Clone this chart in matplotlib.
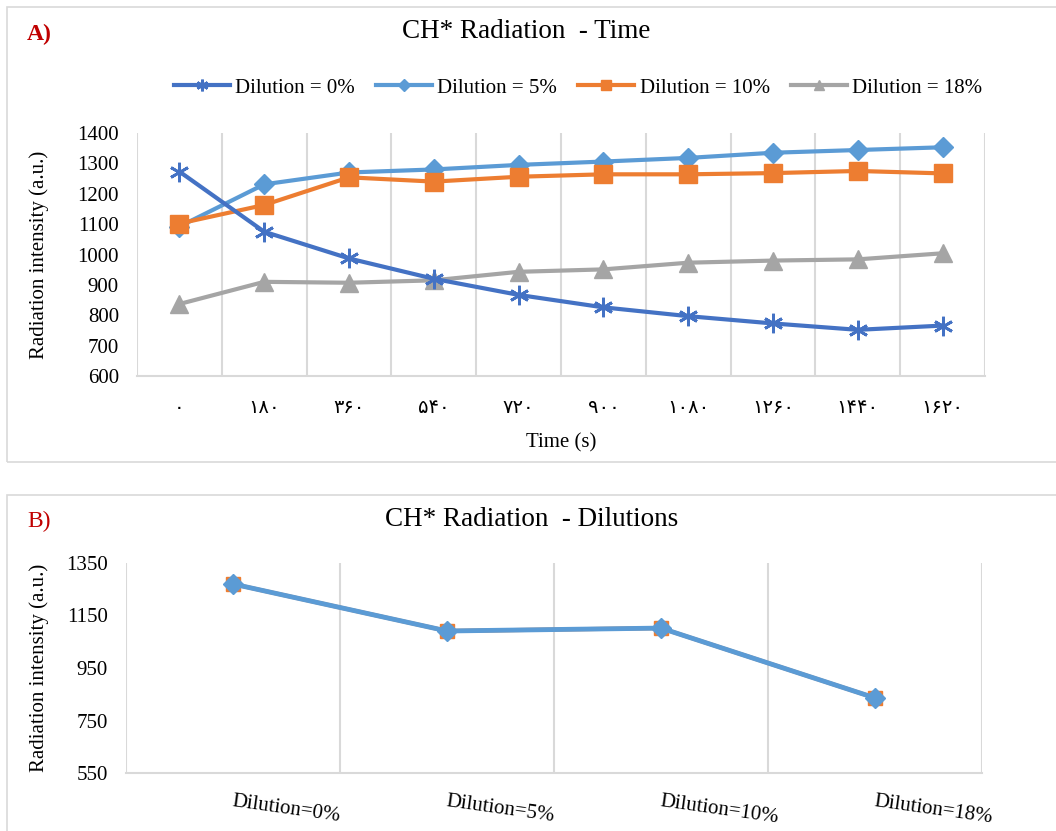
import matplotlib
matplotlib.use("Agg")
import matplotlib.pyplot as plt
from matplotlib.patches import Rectangle
import numpy as np

plt.rcParams['font.family'] = ['Liberation Serif', 'DejaVu Sans']

# Données - panneau A
time_labels = ['۰', '۱۸۰', '۳۶۰', '۵۴۰', '۷۲۰', '۹۰۰', '۱۰۸۰', '۱۲۶۰', '۱۴۴۰', '۱۶۲۰']
dil_0 = [1273, 1075, 987, 920, 867, 826, 797, 773, 752, 766]
dil_5 = [1092, 1231, 1270, 1280, 1295, 1306, 1318, 1335, 1344, 1353]
dil_10 = [1102, 1163, 1254, 1240, 1256, 1264, 1264, 1268, 1275, 1267]
dil_18 = [837, 910, 907, 915, 943, 951, 973, 980, 984, 1004]

# Données - panneau B
dil_labels = ['Dilution=0%', 'Dilution=5%', 'Dilution=10%', 'Dilution=18%']
initial_vals = [1270, 1091, 1102, 836]

c_dark = '#4472C4'
c_blue = '#5B9BD5'
c_orange = '#ED7D31'
c_gray = '#A5A5A5'
grid_c = '#D9D9D9'

W, H = 1056, 831
fig = plt.figure(figsize=(W / 100, H / 100), dpi=100)

def px_axes(left, top, right, bottom):
    return fig.add_axes([left / W, 1 - bottom / H, (right - left) / W, (bottom - top) / H])

# cadres des panneaux
fig.patches.append(Rectangle((7 / W, 1 - 462 / H), 1.2, (462 - 7) / H, transform=fig.transFigure,
                             fill=False, edgecolor='#D9D9D9', lw=1.2))
fig.patches.append(Rectangle((7 / W, -0.2), 1.2, 0.2 + (1 - 495 / H), transform=fig.transFigure,
                             fill=False, edgecolor='#D9D9D9', lw=1.2))

def style_axes(ax, n):
    ax.set_xlim(-0.5, n - 0.5)
    for s in ['top', 'right', 'left']:
        ax.spines[s].set_visible(False)
    ax.spines['bottom'].set_color(grid_c)
    ax.spines['bottom'].set_linewidth(1.5)
    for b in np.arange(-0.5, n, 1.0):
        ax.axvline(b, color=grid_c, lw=1.5, zorder=0)
    ax.tick_params(axis='both', length=0, labelsize=15)
    ax.set_facecolor('none')

# ---- Panneau A
ax1 = px_axes(137, 133, 985, 376)
x = np.arange(len(time_labels))
ax1.plot(x, dil_0, color=c_dark, lw=3, marker=(6, 2, 0), ms=14, mew=2, label='Dilution = 0%', zorder=5)
ax1.plot(x, dil_5, color=c_blue, lw=3, marker='D', ms=10, label='Dilution = 5%', zorder=3)
ax1.plot(x, dil_10, color=c_orange, lw=3, marker='s', ms=13, label='Dilution = 10%', zorder=4)
ax1.plot(x, dil_18, color=c_gray, lw=3, marker='^', ms=13, label='Dilution = 18%', zorder=2)
style_axes(ax1, len(time_labels))
ax1.set_ylim(600, 1400)
ax1.set_yticks(range(600, 1401, 100))
ax1.set_xticks(x)
ax1.set_xticklabels(time_labels, fontsize=14)
ax1.tick_params(axis='x', pad=17)
ax1.tick_params(axis='y', pad=13)
ax1.set_xlabel('Time (s)', fontsize=15, labelpad=12)
ax1.set_ylabel('Radiation intensity (a.u.)', fontsize=15)
ax1.yaxis.set_label_coords(-88 / 848, 0.5)
fig.text(526 / W, 1 - 31 / H, 'CH* Radiation  - Time', fontsize=19.5, ha='center', va='center')
fig.text(27 / W, 1 - 34 / H, 'A)', fontsize=17, fontweight='bold', color='#C00000', ha='left', va='center')
fig.legend(*ax1.get_legend_handles_labels(), loc='center', bbox_to_anchor=(578 / W, 1 - 88 / H),
           ncol=4, frameon=False, fontsize=15, handlelength=2.7, columnspacing=1.0,
           handletextpad=0.25, markerscale=0.6)

# ---- Panneau B
ax2 = px_axes(126, 563, 982, 773)
xb = np.arange(len(dil_labels))
ax2.plot(xb, initial_vals, color=c_orange, lw=3, marker='s', ms=10, zorder=3)
ax2.plot(xb, initial_vals, color=c_blue, lw=3.5, marker='D', ms=10, zorder=4)
style_axes(ax2, len(dil_labels))
ax2.set_ylim(550, 1350)
ax2.set_yticks(range(550, 1351, 200))
ax2.set_xticks(xb)
ax2.set_xticklabels(dil_labels, fontsize=15, rotation=-8, ha='left', rotation_mode='anchor')
ax2.tick_params(axis='x', pad=14)
ax2.tick_params(axis='y', pad=13)
ax2.set_ylabel('Radiation intensity (a.u.)', fontsize=15)
ax2.yaxis.set_label_coords(-77 / 856, 0.5)
fig.text(532 / W, 1 - 520 / H, 'CH* Radiation  - Dilutions', fontsize=19.5, ha='center', va='center')
fig.text(27 / W, 1 - 521 / H, 'B)', fontsize=17, color='#C00000', ha='left', va='center')

fig.savefig('out.png', dpi=100)
